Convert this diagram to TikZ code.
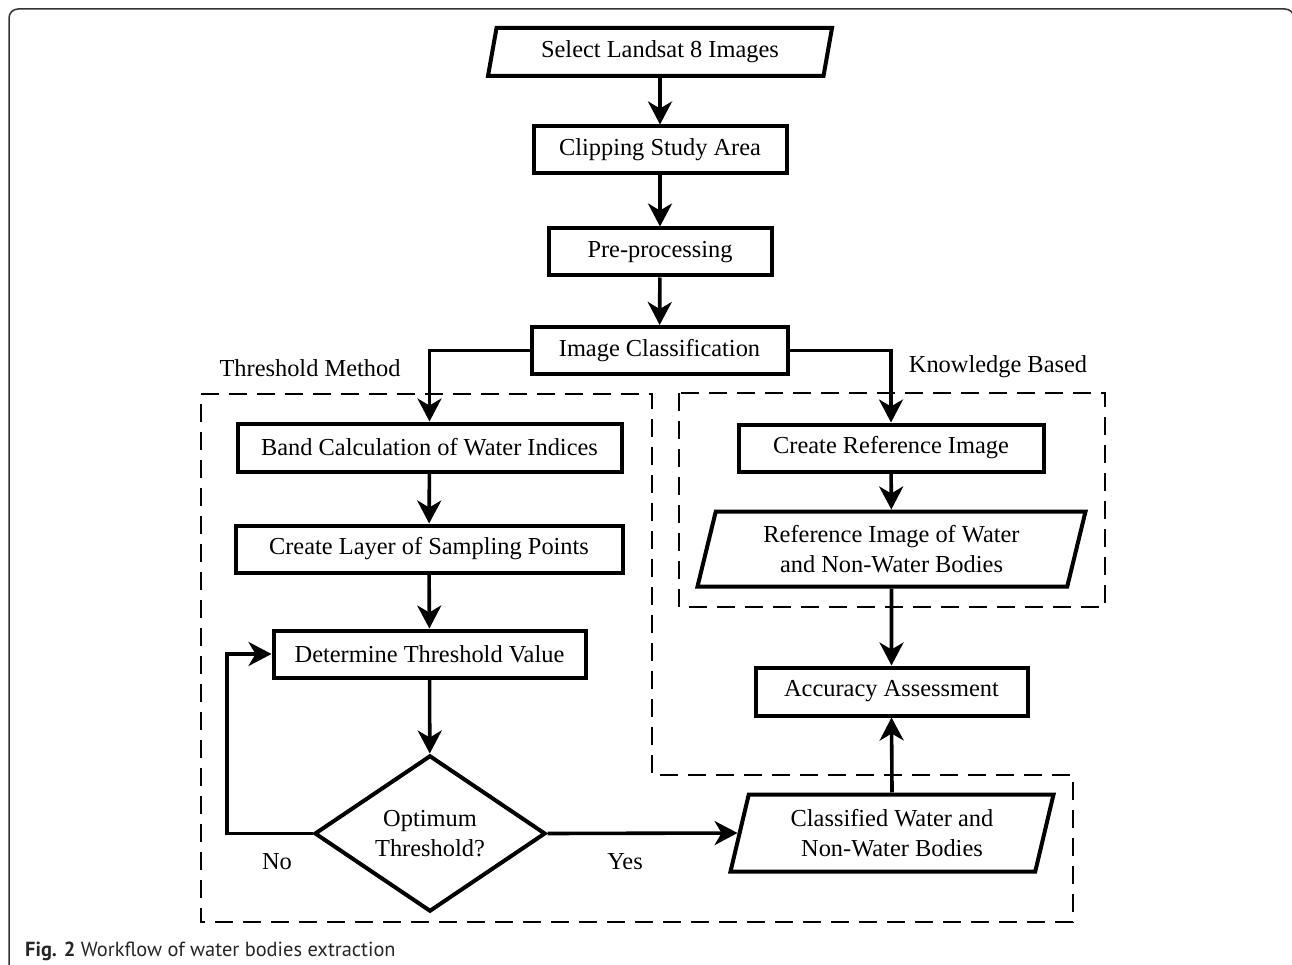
\documentclass[tikz,border=0pt]{standalone}
\usepackage{fontspec}
\setmainfont{Liberation Serif}
\setsansfont{PT Sans}
\usetikzlibrary{arrows.meta,shapes.geometric}
\begin{document}
\begin{tikzpicture}[x=1pt,y=-1pt,
  every node/.style={font=\fontsize{24.4}{30}\selectfont, text=black},
  proc/.style={draw, line width=4pt, rectangle, inner sep=0pt, align=center},
  io/.style={draw, line width=4pt, trapezium, trapezium left angle=69, trapezium right angle=111,
             trapezium stretches body, inner sep=0pt, align=center},
  decide/.style={draw, line width=4pt, diamond, inner sep=0pt, align=center},
  flow/.style={line width=3.6pt, -{Stealth[length=23pt,width=24pt,inset=7pt]}},
  region/.style={line width=1.6pt, dash pattern=on 18pt off 10pt},
  lbl/.style={inner sep=0pt}
]
\useasboundingbox (0,0) rectangle (1292,965);
% outer frame
\draw[line width=1.5pt, black!80, rounded corners=9pt] (9,970) -- (9,9) -- (1294,9) -- (1294,970);

% dashed regions
\draw[region] (201,394) -- (652,394) -- (652,775) -- (1073,775) -- (1073,922) -- (201,922) -- cycle;
\draw[region] (679,393) rectangle (1105,607);

% nodes
\node[io, minimum width=344pt, minimum height=48pt] (sel) at (660,52) {Select Landsat 8 Images};
\node[proc, minimum width=253pt, minimum height=47pt] (clip) at (660,150) {Clipping Study Area};
\node[proc, minimum width=223pt, minimum height=47pt] (pre) at (660,252) {Pre-processing};
\node[proc, minimum width=256pt, minimum height=47pt] (imgc) at (659.5,350.5) {Image Classification};
\node[proc, minimum width=384pt, minimum height=48pt] (band) at (429.5,447.5) {Band Calculation of Water Indices};
\node[proc, minimum width=387pt, minimum height=47pt] (layer) at (429,549) {Create Layer of Sampling Points};
\node[proc, minimum width=312pt, minimum height=47pt] (det) at (429.5,654) {Determine Threshold Value};
\node[decide, minimum width=231pt, minimum height=144pt] (dia) at (430,833.5) {Optimum\\Threshold?};
\node[proc, minimum width=305pt, minimum height=47pt] (cref) at (891,448) {Create Reference Image};
\node[io, minimum width=388pt, minimum height=75pt] (refimg) at (891.5,549) {Reference Image of Water\\and Non-Water Bodies};
\node[proc, minimum width=272pt, minimum height=48pt] (acc) at (891.5,691.5) {Accuracy Assessment};
\node[io, minimum width=323pt, minimum height=77pt] (cls) at (892,833) {Classified Water and\\Non-Water Bodies};

% labels
\node[lbl] (tm) at (310,368) {Threshold Method};
\node[lbl] (kb) at (998,367) {Knowledge Based};
\node[lbl] (no) at (277,862) {No};
\node[lbl] (yes) at (625,862) {Yes};

\coordinate (loop) at (227,833.5);

% connectors
\draw[flow] (sel) -- (clip);
\draw[flow] (clip) -- (pre);
\draw[flow] (pre) -- (imgc);
\draw[flow] (imgc.west) -| (band.north);
\draw[flow] (imgc.east) -| (cref.north);
\draw[flow] (band) -- (layer);
\draw[flow] (layer) -- (det);
\draw[flow] (det) -- (dia);
\draw[flow] (dia.west) -- (loop) |- (det.west);
\draw[flow] (dia.east) -- (cls.west);
\draw[flow] (cref) -- (refimg);
\draw[flow] (refimg.south) -- (acc.north);
\draw[flow] (cls.north) -- (acc.south);

% caption
\node[anchor=base west, inner sep=0pt, font=\sffamily\fontsize{20.4}{24}\selectfont, text=black!85] (cap) at (25,956)
  {\textbf{Fig. 2} Workflow of water bodies extraction};
\end{tikzpicture}
\end{document}
